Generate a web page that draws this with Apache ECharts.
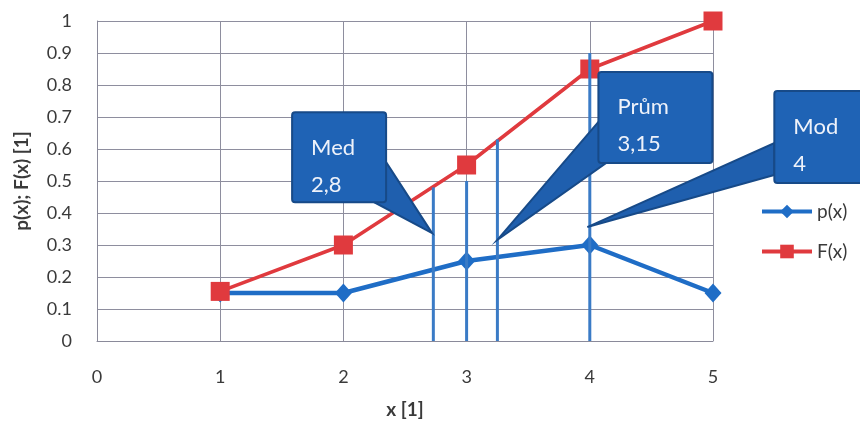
<!DOCTYPE html>
<html><head><meta charset="utf-8">
<script src="https://cdn.jsdelivr.net/npm/echarts@6/dist/echarts.min.js"></script>
<style>html,body{margin:0;padding:0;background:#fff}#c{width:860px;height:426px}</style>
</head><body><div id="c"></div>
<script>
const xValues = [1, 2, 3, 4, 5];
const pValues = [0.15, 0.15, 0.25, 0.3, 0.15];
const FValues = [0.155, 0.3, 0.55, 0.85, 1.0];
const xTicks = [0, 1, 2, 3, 4, 5];
const yTicks = [0, 0.1, 0.2, 0.3, 0.4, 0.5, 0.6, 0.7, 0.8, 0.9, 1];
const statX = [2.73, 3.0, 3.25, 4.0];
const statTop = [0.48, 0.5, 0.63, 0.9];
const calloutTipX = [2.72, 3.25, 3.98];
const calloutTipY = [0.337, 0.316, 0.356];
const calloutTitle = ['Med', 'Prům', 'Mod'];
const calloutValue = ['2,8', '3,15', '4'];

// layout of callout boxes relative to pointer tip (pixels)
const boxLayout = [
  {dx: -140, dy: -121, w: 94, h: 90, b1: [0, 50], b2: [-12, 90]},
  {dx: 101, dy: -168, w: 114, h: 91, b1: [0, 50], b2: [8, 91]},
  {dx: 187, dy: -136, w: 100, h: 92, b1: [0, 52], b2: [0, 84]}
];

const FONT = 'Lato, "Liberation Sans", sans-serif';
const chart = echarts.init(document.getElementById('c'), null, {renderer: 'canvas'});

const pData = xValues.map((x, i) => [x, pValues[i]]);
const FData = xValues.map((x, i) => [x, FValues[i]]);
const statData = statX.map((x, i) => [x, statTop[i]]);
const calloutData = calloutTipX.map((x, i) => [x, calloutTipY[i], i]);

chart.setOption({
  animation: false,
  grid: {left: 97, right: 147, top: 21, bottom: 85},
  legend: {
    orient: 'vertical', left: 755, top: 197, itemGap: 21,
    itemWidth: 50, itemHeight: 17,
    data: ['p(x)', 'F(x)'],
    lineStyle: {width: 4},
    textStyle: {fontFamily: FONT, fontSize: 19, color: '#3a3a3a'}
  },
  xAxis: {
    type: 'value', min: 0, max: 5, interval: 1,
    name: 'x [1]', nameLocation: 'middle', nameGap: 59,
    nameTextStyle: {fontFamily: FONT, fontSize: 19, fontWeight: 'bold', color: '#3a3a3a'},
    axisLine: {show: true, lineStyle: {color: '#8a8a9a', width: 1}},
    axisTick: {show: false},
    axisLabel: {margin: 27, fontFamily: FONT, fontSize: 18, color: '#3a3a3a',
      formatter: v => xTicks.includes(v) ? String(v) : ''},
    splitLine: {show: true, lineStyle: {color: '#8e8e9e', width: 1}}
  },
  yAxis: {
    type: 'value', min: 0, max: 1, interval: 0.1,
    name: 'p(x); F(x) [1]', nameLocation: 'middle', nameGap: 66,
    nameTextStyle: {fontFamily: FONT, fontSize: 19, fontWeight: 'bold', color: '#3a3a3a'},
    axisLine: {show: true, lineStyle: {color: '#8a8a9a', width: 1}},
    axisTick: {show: false},
    axisLabel: {margin: 25, fontFamily: FONT, fontSize: 18, color: '#3a3a3a',
      formatter: v => { const t = yTicks.find(y => Math.abs(y - v) < 1e-9); return t === undefined ? '' : String(t); }},
    splitLine: {show: true, lineStyle: {color: '#8e8e9e', width: 1}}
  },
  series: [
    {
      name: 'p(x)', type: 'line', data: pData, z: 3,
      symbol: 'diamond', symbolSize: [17, 19],
      lineStyle: {color: '#1f6dc6', width: 4.5},
      itemStyle: {color: '#1f6dc6'}
    },
    {
      name: 'F(x)', type: 'line', data: FData, z: 4,
      symbol: 'rect', symbolSize: 19,
      lineStyle: {color: '#e03a3e', width: 3.5},
      itemStyle: {color: '#e03a3e'}
    },
    {
      name: 'stats', type: 'custom', data: statData, z: 5, clip: false,
      renderItem: (params, api) => {
        const p0 = api.coord([api.value(0), 0]);
        const p1 = api.coord([api.value(0), api.value(1)]);
        return {type: 'line', shape: {x1: p0[0], y1: p0[1], x2: p1[0], y2: p1[1]},
          style: {stroke: '#3a7bc6', lineWidth: 3}};
      }
    },
    {
      name: 'callouts', type: 'custom', data: calloutData, z: 10, clip: false,
      renderItem: (params, api) => {
        const i = api.value(2);
        const tip = api.coord([api.value(0), api.value(1)]);
        const L = boxLayout[i];
        const bx = tip[0] + L.dx, by = tip[1] + L.dy;
        const base1 = [(L.dx < 0 ? bx + L.w : bx) + (L.dx < 0 ? 0 : L.b1[0]), by + L.b1[1]];
        const base2 = [(L.dx < 0 ? bx + L.w + L.b2[0] : bx + L.b2[0]), by + L.b2[1]];
        return {
          type: 'group',
          children: [
            {type: 'polygon', shape: {points: [tip, base1, base2]},
              style: {fill: '#1f5fae', stroke: '#174a88', lineWidth: 2}},
            {type: 'rect', shape: {x: bx, y: by, width: L.w, height: L.h, r: 3},
              style: {fill: '#1f63b5', stroke: '#174a88', lineWidth: 2}},
            {type: 'text', x: bx + 19, y: by + 17,
              style: {text: calloutTitle[i] + '\n' + calloutValue[i], fill: '#eef2fa',
                font: '22px ' + FONT, lineHeight: 37, verticalAlign: 'top', align: 'left'}}
          ]
        };
      }
    }
  ]
});
</script></body></html>
